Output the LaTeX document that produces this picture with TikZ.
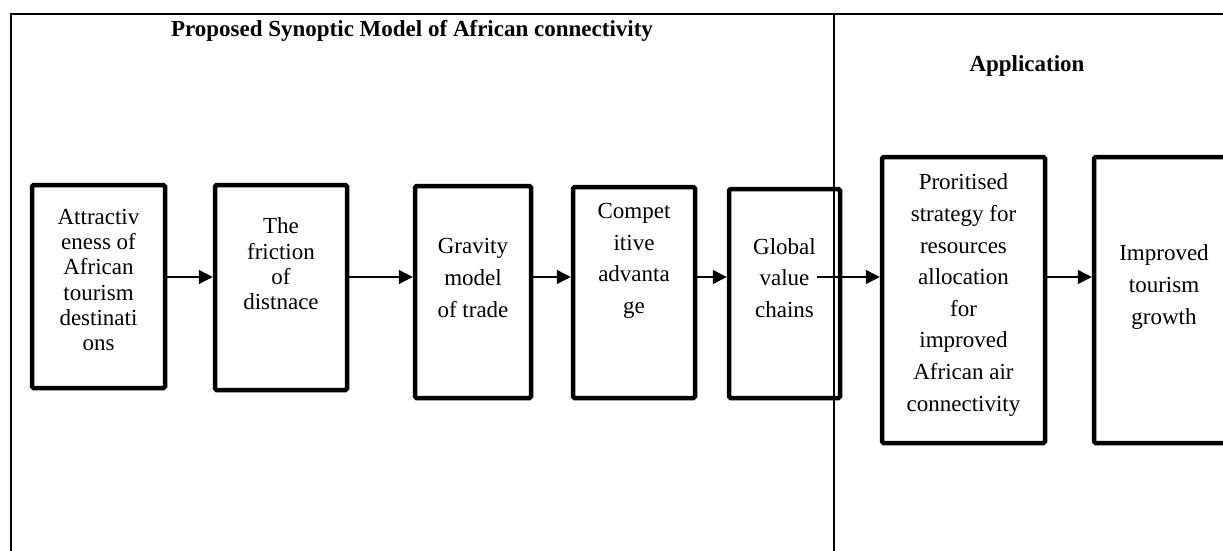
\documentclass[tikz,border=0pt]{standalone}
\usepackage{fontspec}
\setmainfont{Liberation Serif}
\usetikzlibrary{arrows.meta}
\begin{document}
\begin{tikzpicture}[x=1pt,y=-1pt,
  box/.style={draw, line width=4.5pt, rounded corners=1.5pt, inner sep=0pt},
  lbl/.style={align=center, inner sep=0pt, font=\fontsize{23}{31.6}\selectfont},
  lbltight/.style={align=center, inner sep=0pt, font=\fontsize{23}{25.3}\selectfont},
  head/.style={inner sep=0pt, font=\fontsize{23}{28}\selectfont\bfseries},
  arr/.style={line width=1.5pt, -{Triangle[length=14pt,width=14pt]}},
  frame/.style={line width=2pt}]
\clip (0,0) rectangle (1223,551);
\fill[white] (0,0) rectangle (1223,551);
% frame
\draw[frame] (11,551) -- (11,14) -- (1223,14);
\draw[frame] (834,14) -- (834,551);
\node[head] (title) at (412,31) {Proposed Synoptic Model of African connectivity};
\node[head] (app) at (1027,66) {Application};
% boxes
\node[box, minimum width=133pt, minimum height=203pt] (b1) at (98.5,286.5) {};
\node[box, minimum width=132pt, minimum height=205pt] (b2) at (281,287.5) {};
\node[box, minimum width=116pt, minimum height=212pt] (b3) at (473,292) {};
\node[box, minimum width=122pt, minimum height=211pt] (b4) at (634,292.5) {};
\node[box, minimum width=111pt, minimum height=209pt] (b5) at (784.5,293.5) {};
\node[box, minimum width=163pt, minimum height=286pt] (b6) at (963.5,300) {};
\node[box, minimum width=154pt, minimum height=286pt] (b7) at (1171,300) {};
% texts
\node[lbltight] (t1) at (98.5,280) {Attractiv\\eness of\\African\\tourism\\destinati\\ons};
\node[lbltight] (t2) at (281,264) {The\\friction\\of\\distnace};
\node[lbl] (t3) at (473,278) {Gravity\\model\\of trade};
\node[lbl] (t4) at (634,261) {Compet\\itive\\advanta\\ge};
\node[lbl] (t5) at (784.5,278) {Global\\value\\chains};
\node[lbl] (t6) at (963.5,295) {Proritised\\strategy for\\resources\\allocation\\for\\improved\\African air\\connectivity};
\node[lbl] (t7) at (1164,287) {Improved\\tourism\\growth};
% connectors
\coordinate (lane) at (0,277);
\coordinate (g5) at (817,277);
\draw[arr] (b1.east |- lane) -- (b2.west |- lane);
\draw[arr] (b2.east |- lane) -- (b3.west |- lane);
\draw[arr] (b3.east |- lane) -- (b4.west |- lane);
\draw[arr] (b4.east |- lane) -- (b5.west |- lane);
\draw[arr] (g5) -- (b6.west |- lane);
\draw[arr] (b6.east |- lane) -- (b7.west |- lane);
\end{tikzpicture}
\end{document}
